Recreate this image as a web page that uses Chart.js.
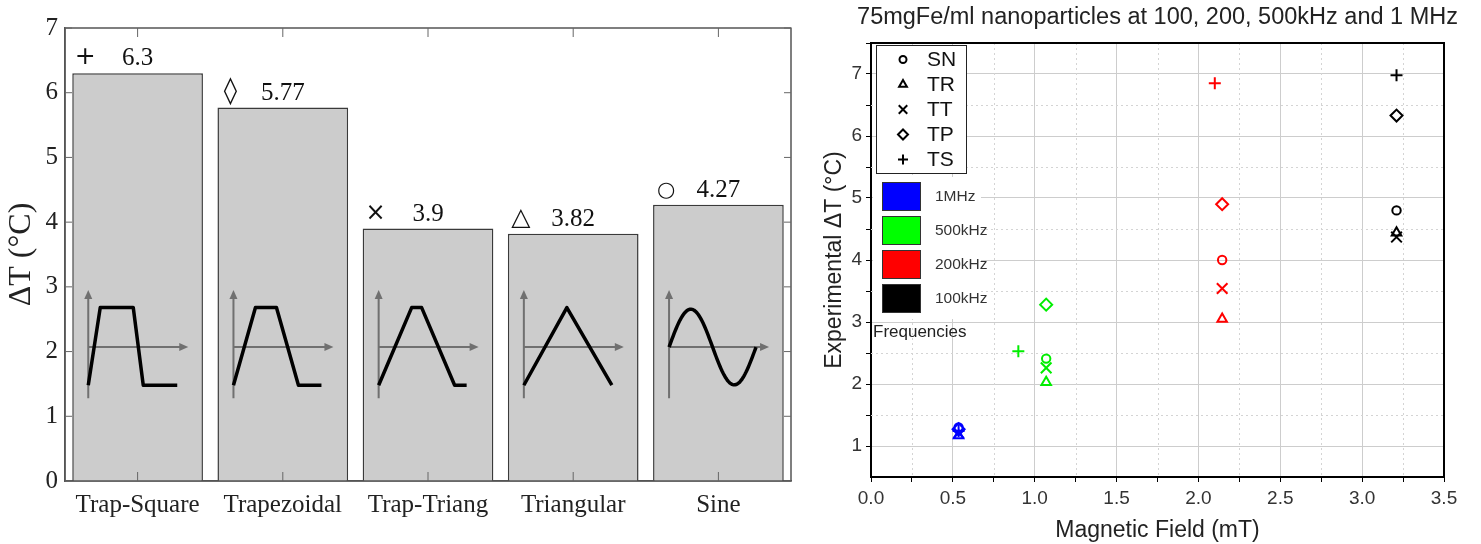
<!DOCTYPE html>
<html>
<head>
<meta charset="utf-8">
<script src="https://cdn.jsdelivr.net/npm/chart.js@4.4.0/dist/chart.umd.min.js"></script>
<style>
  body { margin: 0; background: #fff; }
  #left { position: absolute; left: 0; top: 0; width: 800px; height: 544px; }
  #right { position: absolute; left: 800px; top: 0; width: 681px; height: 544px; }
</style>
</head>
<body>
<div id="left"><canvas id="bars"></canvas></div>
<div id="right"><canvas id="field"></canvas></div>
<script>
// ---- left panel: heating per waveform
const waveNames = ['Trap-Square', 'Trapezoidal', 'Trap-Triang', 'Triangular', 'Sine'];
const waveDeltaT = [6.3, 5.77, 3.9, 3.82, 4.27];
const waveMarks = ['+', '\u25CA', '\u00D7', '\u25B3', '\u25CB'];
const barTicks = [0, 1, 2, 3, 4, 5, 6, 7];

// ---- right panel: dT vs field, one list per frequency (order SN, TR, TT, TP, TS)
const shapeNames = ['SN', 'TR', 'TT', 'TP', 'TS'];
const freqNames = ['1MHz', '500kHz', '200kHz', '100kHz'];
const field1MHz = [0.535, 0.535, 0.535, 0.535, 0.535];
const dT1MHz = [1.30, 1.17, 1.21, 1.27, 1.24];
const field500kHz = [1.07, 1.07, 1.07, 1.07, 0.90];
const dT500kHz = [2.41, 2.03, 2.26, 3.28, 2.53];
const field200kHz = [2.145, 2.145, 2.145, 2.145, 2.10];
const dT200kHz = [4.00, 3.05, 3.54, 4.90, 6.85];
const field100kHz = [3.21, 3.21, 3.21, 3.21, 3.21];
const dT100kHz = [4.80, 4.44, 4.37, 6.33, 6.98];
const fieldTicks = [0, 0.5, 1, 1.5, 2, 2.5, 3, 3.5];
const fieldMinor = [0.25, 0.75, 1.25, 1.75, 2.25, 2.75, 3.25];
const tempTicks = [1, 2, 3, 4, 5, 6, 7];
const tempMinor = [1.5, 2.5, 3.5, 4.5, 5.5, 6.5, 7.5];

const serif = "'Liberation Serif', 'DejaVu Serif', serif";
const sans = "'Liberation Sans', Arial, sans-serif";

// little waveform sketches inside the bars (px offsets on a 130px wide bar, 0 = low, 1 = high)
const insetPaths = [
  [[0, 0], [12, 1], [45, 1], [55, 0], [89, 0]],
  [[0, 0], [22, 1], [43, 1], [65, 0], [88, 0]],
  [[0, 0], [33, 1], [43, 1], [76, 0], [88, 0]],
  [[0, 0], [43, 1], [88, 0]],
  null
];
const markSizes = [25, 27, 24, 25, 21];

function arrowHead(ctx, x, y, dx, dy) {
  const len = 9, half = 4;
  ctx.beginPath();
  ctx.moveTo(x, y);
  ctx.lineTo(x - dx * len - dy * half, y - dy * len + dx * half);
  ctx.lineTo(x - dx * len + dy * half, y - dy * len - dx * half);
  ctx.closePath();
  ctx.fill();
}

const barDecor = {
  id: 'barDecor',
  afterDatasetsDraw(chart) {
    const ctx = chart.ctx;
    const ys = chart.scales.y, xs = chart.scales.x;
    const area = chart.chartArea;
    const meta = chart.getDatasetMeta(0);
    ctx.save();
    meta.data.forEach((el, i) => {
      const {x, width, y} = el.getProps(['x', 'width', 'y'], true);
      const left = x - width / 2;
      const k = width / 130.7;
      const ax = left + 16 * k;
      const yHi = ys.getPixelForValue(2.68), yLo = ys.getPixelForValue(1.48);
      const yMid = ys.getPixelForValue(2.07);
      // axes of the sketch
      ctx.strokeStyle = '#707070';
      ctx.fillStyle = '#707070';
      ctx.lineWidth = 2;
      ctx.beginPath();
      ctx.moveTo(ax, ys.getPixelForValue(1.28));
      ctx.lineTo(ax, ys.getPixelForValue(2.95) + 6);
      ctx.moveTo(ax, yMid);
      ctx.lineTo(ax + 100 * k - 6, yMid);
      ctx.stroke();
      arrowHead(ctx, ax, ys.getPixelForValue(2.95), 0, -1);
      arrowHead(ctx, ax + 100 * k, yMid, 1, 0);
      // the waveform
      ctx.strokeStyle = '#000';
      ctx.lineWidth = 3.5;
      ctx.lineJoin = 'round';
      ctx.beginPath();
      const path = insetPaths[i];
      if (path) {
        path.forEach(([px, lvl], j) => {
          const xx = ax + px * k, yy = lvl ? yHi : yLo;
          if (j === 0) ctx.moveTo(xx, yy); else ctx.lineTo(xx, yy);
        });
      } else {
        const amp = (yLo - yHi) / 2 - 1;
        for (let t = 0; t <= 87; t += 1) {
          const yy = yMid - amp * Math.sin(t / 87 * 2 * Math.PI);
          if (t === 0) ctx.moveTo(ax + t * k, yy); else ctx.lineTo(ax + t * k, yy);
        }
      }
      ctx.stroke();
      // symbol and value above the bar
      ctx.fillStyle = '#111';
      ctx.textBaseline = 'alphabetic';
      ctx.textAlign = 'center';
      ctx.font = "25px " + serif;
      ctx.fillText(String(waveDeltaT[i]), x, y - 8);
      ctx.font = markSizes[i] + "px 'DejaVu Sans', " + serif;
      ctx.fillText(waveMarks[i], left + 13 * k, y - 9);
    });
    // frame and inward ticks
    ctx.strokeStyle = '#555';
    ctx.lineWidth = 1.5;
    ctx.strokeRect(area.left, area.top, area.right - area.left, area.bottom - area.top);
    ctx.lineWidth = 1;
    ctx.strokeStyle = '#666';
    ctx.beginPath();
    barTicks.forEach(v => {
      const py = ys.getPixelForValue(v);
      ctx.moveTo(area.left, py); ctx.lineTo(area.left + 7, py);
      ctx.moveTo(area.right, py); ctx.lineTo(area.right - 7, py);
    });
    waveNames.forEach((n, i) => {
      const px = xs.getPixelForValue(i);
      ctx.moveTo(px, area.top); ctx.lineTo(px, area.top + 9);
      ctx.moveTo(px, area.bottom); ctx.lineTo(px, area.bottom - 9);
    });
    ctx.stroke();
    ctx.restore();
  }
};

new Chart(document.getElementById('bars'), {
  type: 'bar',
  data: {
    labels: waveNames,
    datasets: [{
      data: waveDeltaT,
      backgroundColor: '#cccccc',
      borderColor: '#3a3a3a',
      borderWidth: 1.5,
      categoryPercentage: 0.9,
      barPercentage: 1
    }]
  },
  options: {
    responsive: true,
    maintainAspectRatio: false,
    animation: false,
    layout: { padding: { top: 28, right: 9, left: 0, bottom: 0 } },
    plugins: { legend: { display: false }, tooltip: { enabled: false } },
    scales: {
      x: {
        grid: { display: false, drawTicks: false },
        border: { color: '#555', width: 1.5 },
        ticks: { color: '#222', font: { family: serif, size: 25 }, padding: 9 },
        afterFit: s => { s.height = 63; }
      },
      y: {
        min: 0,
        max: 7,
        afterBuildTicks: s => { s.ticks = barTicks.map(v => ({ value: v })); },
        grid: { display: false, drawTicks: false },
        border: { color: '#555', width: 1.5 },
        ticks: { color: '#222', font: { family: serif, size: 25 }, padding: 7 },
        title: { display: true, text: '\u0394T (\u00B0C)', color: '#222', font: { family: serif, size: 32 }, padding: { top: 2, bottom: 0 } },
        afterFit: s => { s.width = 65; }
      }
    }
  },
  plugins: [barDecor]
});

// ---- right panel
const shapeStyles = ['circle', 'triangle', 'crossRot', 'rectRot', 'cross'];
const shapeRadius = [4.2, 5.5, 7.5, 6, 6];
const legendRadius = [3.5, 4.5, 6, 5, 5];
const freqColors = ['#0000ff', '#00ee00', '#ff0000', '#000000'];
const freqFields = [field1MHz, field500kHz, field200kHz, field100kHz];
const freqTemps = [dT1MHz, dT500kHz, dT200kHz, dT100kHz];

const fieldDecor = {
  id: 'fieldDecor',
  beforeDatasetsDraw(chart) {
    const ctx = chart.ctx, a = chart.chartArea;
    const xs = chart.scales.x, ys = chart.scales.y;
    ctx.save();
    ctx.strokeStyle = '#d4d4d4';
    ctx.lineWidth = 1;
    ctx.setLineDash([2, 3]);
    ctx.beginPath();
    fieldMinor.forEach(v => {
      const px = Math.round(xs.getPixelForValue(v)) + 0.5;
      ctx.moveTo(px, a.top); ctx.lineTo(px, a.bottom);
    });
    tempMinor.forEach(v => {
      const py = Math.round(ys.getPixelForValue(v)) + 0.5;
      ctx.moveTo(a.left, py); ctx.lineTo(a.right, py);
    });
    ctx.stroke();
    ctx.restore();
  },
  afterDraw(chart) {
    const ctx = chart.ctx, a = chart.chartArea;
    ctx.save();
    // frame
    ctx.strokeStyle = '#000';
    ctx.lineWidth = 2;
    ctx.beginPath();
    ctx.moveTo(a.left, a.top); ctx.lineTo(a.right, a.top); ctx.lineTo(a.right, a.bottom);
    ctx.stroke();
    // title
    ctx.fillStyle = '#222';
    ctx.font = '23.5px ' + sans;
    ctx.textAlign = 'center';
    ctx.textBaseline = 'middle';
    ctx.fillText('75mgFe/ml nanoparticles at 100, 200, 500kHz and 1 MHz', (a.left + a.right) / 2, 18);
    // shape legend
    const bx = a.left + 5, by = a.top + 2;
    ctx.fillStyle = '#fff';
    ctx.fillRect(bx, by, 90, 128);
    ctx.strokeStyle = '#222';
    ctx.lineWidth = 1;
    ctx.strokeRect(bx + 0.5, by + 0.5, 90, 128);
    shapeNames.forEach((n, i) => {
      const cy = by + 14.5 + i * 25;
      ctx.strokeStyle = '#000';
      ctx.fillStyle = 'rgba(0,0,0,0)';
      ctx.lineWidth = 2;
      Chart.helpers.drawPoint(ctx, { pointStyle: shapeStyles[i], radius: legendRadius[i], borderWidth: 2, rotation: 0 }, bx + 27, cy);
      ctx.fillStyle = '#111';
      ctx.font = '21px ' + sans;
      ctx.textAlign = 'left';
      ctx.textBaseline = 'middle';
      ctx.fillText(n, bx + 51, cy + 1);
    });
    // frequency legend
    const fx = a.left + 11;
    ctx.fillStyle = '#fff';
    ctx.fillRect(a.left + 2, a.top + 134, 108, 142);
    freqNames.forEach((n, i) => {
      const top = a.top + 139 + i * 34;
      ctx.fillStyle = i === 1 ? '#00ff00' : freqColors[i];
      ctx.fillRect(fx, top, 38, 28);
      ctx.strokeStyle = '#333';
      ctx.lineWidth = 1;
      ctx.strokeRect(fx + 0.5, top + 0.5, 38, 28);
      ctx.fillStyle = '#333';
      ctx.font = '15.5px ' + sans;
      ctx.textAlign = 'left';
      ctx.textBaseline = 'middle';
      ctx.fillText(n, fx + 53, top + 15);
    });
    ctx.fillStyle = '#222';
    ctx.font = '17px ' + sans;
    ctx.fillText('Frequencies', a.left + 2, a.top + 289);
    ctx.restore();
  }
};

new Chart(document.getElementById('field'), {
  type: 'scatter',
  data: {
    datasets: freqNames.map((f, i) => ({
      label: f,
      data: freqFields[i].map((x, j) => ({ x: x, y: freqTemps[i][j] })),
      pointStyle: shapeStyles,
      pointRadius: shapeRadius,
      pointBorderWidth: 2,
      borderColor: freqColors[i],
      backgroundColor: 'rgba(0,0,0,0)'
    }))
  },
  options: {
    responsive: true,
    maintainAspectRatio: false,
    animation: false,
    layout: { padding: { top: 43, right: 37, left: 0, bottom: 0 } },
    plugins: { legend: { display: false }, tooltip: { enabled: false } },
    scales: {
      x: {
        type: 'linear',
        min: 0,
        max: 3.5,
        afterBuildTicks: s => {
          s.ticks = fieldTicks.concat(fieldMinor).sort((p, q) => p - q).map(v => ({ value: v }));
        },
        grid: {
          color: c => fieldTicks.includes(c.tick.value) ? '#cdcdcd' : 'rgba(0,0,0,0)',
          tickColor: '#000',
          tickLength: 5,
          lineWidth: 1
        },
        border: { color: '#000', width: 2 },
        ticks: {
          autoSkip: false,
          maxRotation: 0,
          color: '#333',
          font: { family: sans, size: 19 },
          padding: 5,
          callback: v => fieldTicks.includes(v) ? v.toFixed(1) : ''
        },
        title: { display: true, text: 'Magnetic Field (mT)', color: '#222', font: { family: sans, size: 23 }, padding: { top: 0, bottom: 0 } },
        afterFit: s => { s.height = 67; }
      },
      y: {
        min: 0.5,
        max: 7.5,
        afterBuildTicks: s => {
          s.ticks = tempTicks.concat(tempMinor).sort((p, q) => p - q).map(v => ({ value: v }));
        },
        grid: {
          color: c => tempTicks.includes(c.tick.value) ? '#cdcdcd' : 'rgba(0,0,0,0)',
          tickColor: '#000',
          tickLength: 5,
          lineWidth: 1
        },
        border: { color: '#000', width: 2 },
        ticks: {
          autoSkip: false,
          color: '#333',
          font: { family: sans, size: 19 },
          padding: 4,
          callback: v => tempTicks.includes(v) ? String(v) : ''
        },
        title: { display: true, text: 'Experimental \u0394T (\u00B0C)', color: '#222', font: { family: sans, size: 23 }, padding: { top: 21, bottom: 0 } },
        afterFit: s => { s.width = 71; }
      }
    }
  },
  plugins: [fieldDecor]
});
</script>
</body>
</html>
